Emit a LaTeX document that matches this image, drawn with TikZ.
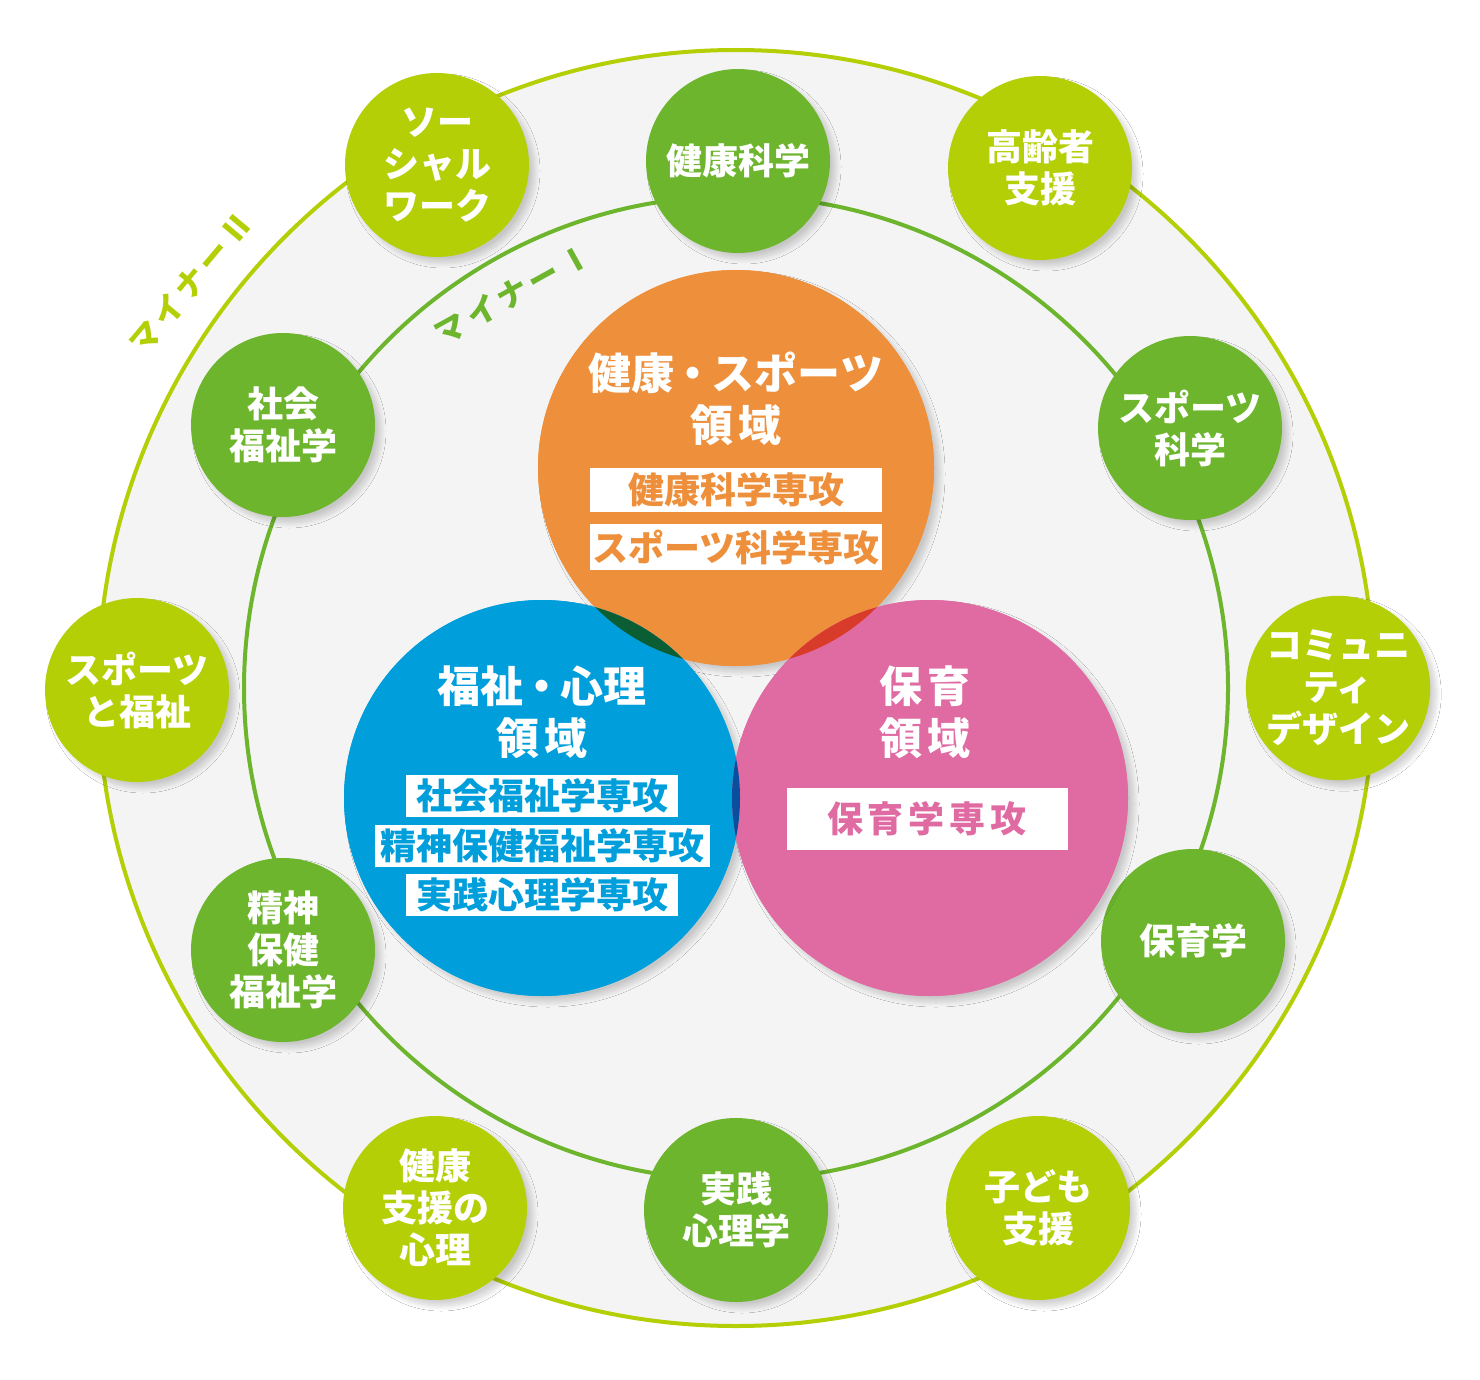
\documentclass[tikz,border=0pt]{standalone}
\usepackage{fontspec}
\newfontfamily\jp{Noto Sans CJK JP}
\usetikzlibrary{shadows.blur}
\definecolor{lg}{HTML}{B4CF06}
\definecolor{dg}{HTML}{6CB52D}
\definecolor{bgc}{HTML}{F4F4F4}
\definecolor{org}{HTML}{EE8F3B}
\definecolor{blu}{HTML}{009FDC}
\definecolor{pnk}{HTML}{E06BA3}
\definecolor{ob}{HTML}{0B5E34}
\definecolor{op}{HTML}{D93B2B}
\definecolor{bp}{HTML}{0A4F9D}
\tikzset{
  shd/.style={blur shadow={shadow xshift=6pt, shadow yshift=-6pt, shadow blur radius=5pt, shadow opacity=18, shadow blur steps=12}},
  smallc/.style={circle, minimum size=184pt, inner sep=0pt, text=white, align=center,
    font=\jp\bfseries\fontsize{36}{42}\selectfont, shd},
  lgc/.style={smallc, fill=lg},
  dgc/.style={smallc, fill=dg},
  bigc/.style={circle, minimum size=396pt, inner sep=0pt},
  title/.style={text=white, align=center, font=\jp\bfseries\fontsize{43}{52}\selectfont},
  major/.style={fill=white, inner sep=0pt, minimum height=44pt, font=\jp\bfseries\fontsize{36}{40}\selectfont},
  minorlab/.style={font=\jp\bfseries\fontsize{31}{36}\selectfont\addfontfeature{LetterSpace=15}, inner sep=0pt}
}
\begin{document}
\begin{tikzpicture}[x=1pt, y=-1pt]
\useasboundingbox (0,0) rectangle (1480,1380);
\fill[white] (0,0) rectangle (1480,1380);
% rings
\coordinate (ctr) at (736,688);
\filldraw[fill=bgc, draw=lg, line width=4pt] (ctr) circle (638pt);
\draw[dg, line width=4pt] (ctr) circle (492pt);
% minor labels
\node[minorlab, text=lg, rotate=50] (m2) at (191,283) {マイナーⅡ};
\node[minorlab, text=dg, rotate=29] (m1) at (513,294) {マイナーⅠ};
% outer (minor II) circles
\node[lgc] (sw) at (437,165) {ソー\\シャル\\ワーク};
\node[lgc] (ko) at (1040,168) {高齢者\\支援};
\node[lgc] (cd) at (1338,688) {コミュニ\\ティ\\デザイン};
\node[lgc] (kd) at (1038,1208) {子ども\\支援};
\node[lgc] (ks) at (435,1208) {健康\\支援の\\心理};
\node[lgc] (sf) at (137,690) {スポーツ\\と福祉};
% inner (minor I) circles
\node[dgc] (kk) at (738,161) {健康科学};
\node[dgc] (sk) at (1190,428) {スポーツ\\科学};
\node[dgc] (hg) at (1193,941) {保育学};
\node[dgc] (js) at (736,1210) {実践\\心理学};
\node[dgc] (sh) at (283,950) {精神\\保健\\福祉学};
\node[dgc] (sg) at (283,425) {社会\\福祉学};
% big circles: shadows first
\begin{scope}
\node[bigc, shd, fill=org] at (736,468) {};
\node[bigc, shd, fill=blu] at (542,798) {};
\node[bigc, shd, fill=pnk] at (930,798) {};
\end{scope}
\node[bigc, fill=org] (hsp) at (736,468) {};
\node[bigc, fill=blu] (fsr) at (542,798) {};
\node[bigc, fill=pnk] (hik) at (930,798) {};
\begin{scope}
\clip (hsp.center) circle (198pt);
\fill[ob] (fsr.center) circle (198pt);
\fill[op] (hik.center) circle (198pt);
\end{scope}
\begin{scope}
\clip (fsr.center) circle (198pt);
\fill[bp] (hik.center) circle (198pt);
\end{scope}
% titles
\node[title] (t1) at (736,399) {健康\hspace{-3pt}・\hspace{-3pt}スポーツ\\領\hspace{6pt}域};
\node[title] (t2) at (542,712) {福祉\hspace{-3pt}・\hspace{-3pt}心理\\領\hspace{6pt}域};
\node[title] (t3) at (925,712) {保\hspace{6pt}育\\領\hspace{6pt}域};
% majors
\node[major, text=org, minimum width=292pt] (a1) at (736,490) {健康科学専攻};
\node[major, text=org, minimum width=292pt, minimum height=46pt] (a2) at (736,547) {スポーツ科学専攻};
\node[major, text=blu, minimum width=272pt, minimum height=42pt] (b1) at (542,796) {社会福祉学専攻};
\node[major, text=blu, minimum width=335pt, minimum height=42pt] (b2) at (542,846) {精神保健福祉学専攻};
\node[major, text=blu, minimum width=272pt, minimum height=42pt] (b3) at (542,895) {実践心理学専攻};
\node[major, text=pnk, minimum width=281pt, minimum height=62pt] (c1) at (927,819) {保\hspace{5pt}育\hspace{5pt}学\hspace{5pt}専\hspace{5pt}攻};
\end{tikzpicture}
\end{document}
